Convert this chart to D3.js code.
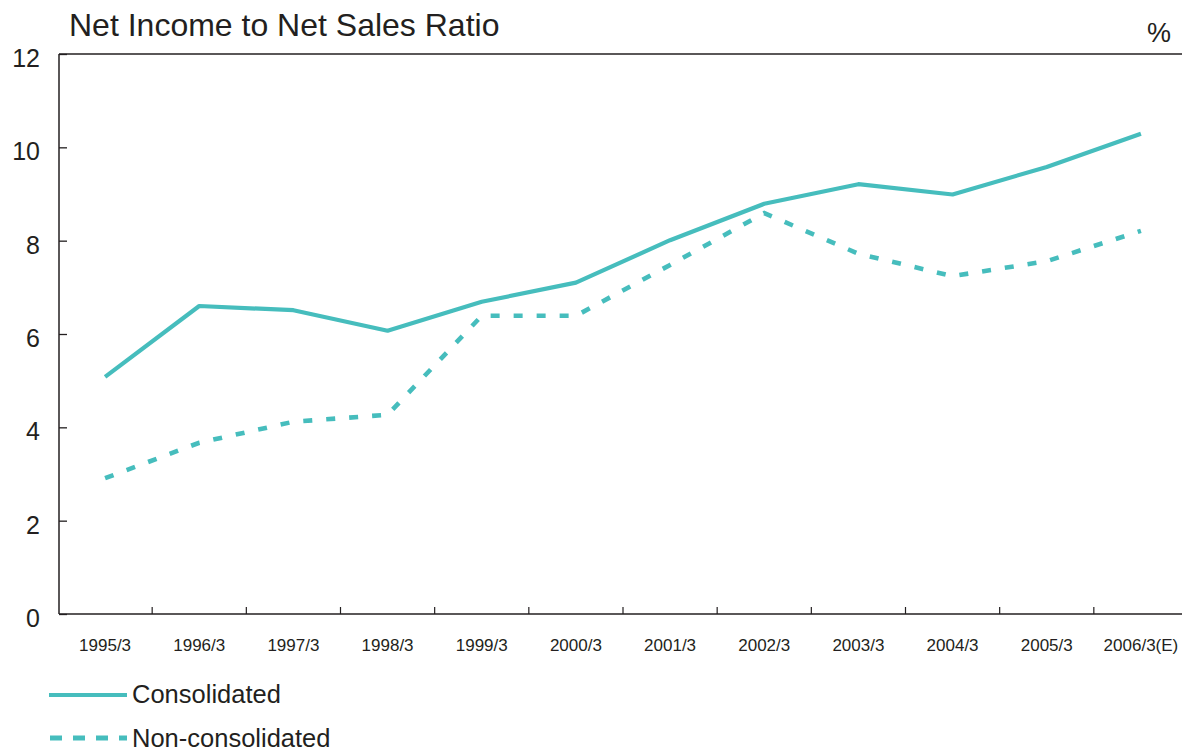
<!DOCTYPE html>
<html>
<head>
<meta charset="utf-8">
<script src="https://cdn.jsdelivr.net/npm/d3@7"></script>
<style>
  html, body { margin: 0; padding: 0; background: #ffffff; }
  svg { display: block; }
  text { font-family: "Liberation Sans", Arial, Helvetica, sans-serif; fill: #231f20; }
</style>
</head>
<body>
<svg id="chart" width="1182" height="751"></svg>
<script>
const categories = ["1995/3","1996/3","1997/3","1998/3","1999/3","2000/3","2001/3","2002/3","2003/3","2004/3","2005/3","2006/3(E)"];
const consolidated = [5.08, 6.60, 6.51, 6.07, 6.69, 7.10, 8.01, 8.79, 9.21, 8.99, 9.58, 10.29];
const nonConsolidated = [2.91, 3.67, 4.12, 4.27, 6.39, 6.39, 7.48, 8.59, 7.72, 7.24, 7.56, 8.21];
const yTicks = [0, 2, 4, 6, 8, 10, 12];
const titleText = "Net Income to Net Sales Ratio";
const unitText = "%";
const seriesNames = ["Consolidated", "Non-consolidated"];

const color = "#46bdbd";
const svg = d3.select("#chart");

const plotLeft = 59, plotRight = 1182, plotTop = 54, plotBottom = 614;

const x = d3.scaleBand().domain(categories).range([58, 1188]).padding(0);
const y = d3.scaleLinear().domain([0, 12]).range([plotBottom, plotTop]);
const cx = d => x(d) + x.bandwidth() / 2;

// Title and unit
svg.append("text").attr("x", 69).attr("y", 36)
  .attr("font-size", 32).text(titleText);
svg.append("text").attr("x", 1171).attr("y", 42)
  .attr("text-anchor", "end").attr("font-size", 27).text(unitText);

// Y axis
const yAxis = d3.axisLeft(y).tickValues(yTicks).tickSize(-8).tickPadding(0).tickFormat(d3.format("d"));
const gy = svg.append("g").attr("transform", `translate(${plotLeft},0)`).call(yAxis);
gy.select(".domain").remove();
gy.selectAll(".tick line").attr("stroke", "#231f20").attr("stroke-width", 1.3);
gy.selectAll(".tick text").attr("x", -19).attr("dy", "0.5em")
  .attr("font-size", 25).attr("fill", "#231f20")
  .attr("font-family", "'Liberation Sans', Arial, sans-serif");

// Frame lines: left, top
svg.append("line").attr("x1", plotLeft).attr("x2", plotLeft).attr("y1", plotTop).attr("y2", plotBottom)
  .attr("stroke", "#231f20").attr("stroke-width", 1.5);
svg.append("line").attr("x1", plotLeft).attr("x2", plotRight).attr("y1", plotTop).attr("y2", plotTop)
  .attr("stroke", "#231f20").attr("stroke-width", 1.5);

// X axis
const xAxis = d3.axisBottom(x).tickSize(0).tickPadding(0);
const gx = svg.append("g").attr("transform", `translate(0,${plotBottom})`).call(xAxis);
gx.select(".domain").remove();
gx.selectAll(".tick text").attr("y", 37).attr("dy", 0)
  .attr("font-size", 17).attr("fill", "#231f20")
  .attr("font-family", "'Liberation Sans', Arial, sans-serif");
svg.append("line").attr("x1", plotLeft).attr("x2", plotRight).attr("y1", plotBottom).attr("y2", plotBottom)
  .attr("stroke", "#231f20").attr("stroke-width", 1.5);
// tick marks between categories
svg.append("g").selectAll("line").data(categories.slice(1)).join("line")
  .attr("x1", d => x(d)).attr("x2", d => x(d))
  .attr("y1", plotBottom).attr("y2", plotBottom - 7)
  .attr("stroke", "#231f20").attr("stroke-width", 1.2);

// Lines
const line = d3.line().x((d, i) => cx(categories[i])).y(d => y(d));
svg.append("path").datum(consolidated).attr("d", line)
  .attr("fill", "none").attr("stroke", color).attr("stroke-width", 4.2)
  .attr("stroke-linejoin", "round");
svg.append("path").datum(nonConsolidated).attr("d", line)
  .attr("fill", "none").attr("stroke", color).attr("stroke-width", 4.6)
  .attr("stroke-dasharray", "9,14");

// Legend
svg.append("line").attr("x1", 49).attr("x2", 127).attr("y1", 695).attr("y2", 695)
  .attr("stroke", color).attr("stroke-width", 4.2);
svg.append("text").attr("x", 132).attr("y", 703).attr("font-size", 25.5).text(seriesNames[0]);
svg.append("line").attr("x1", 50).attr("x2", 127).attr("y1", 738).attr("y2", 738)
  .attr("stroke", color).attr("stroke-width", 5).attr("stroke-dasharray", "12,11");
svg.append("text").attr("x", 132).attr("y", 747).attr("font-size", 25.5).text(seriesNames[1]);
</script>
</body>
</html>
